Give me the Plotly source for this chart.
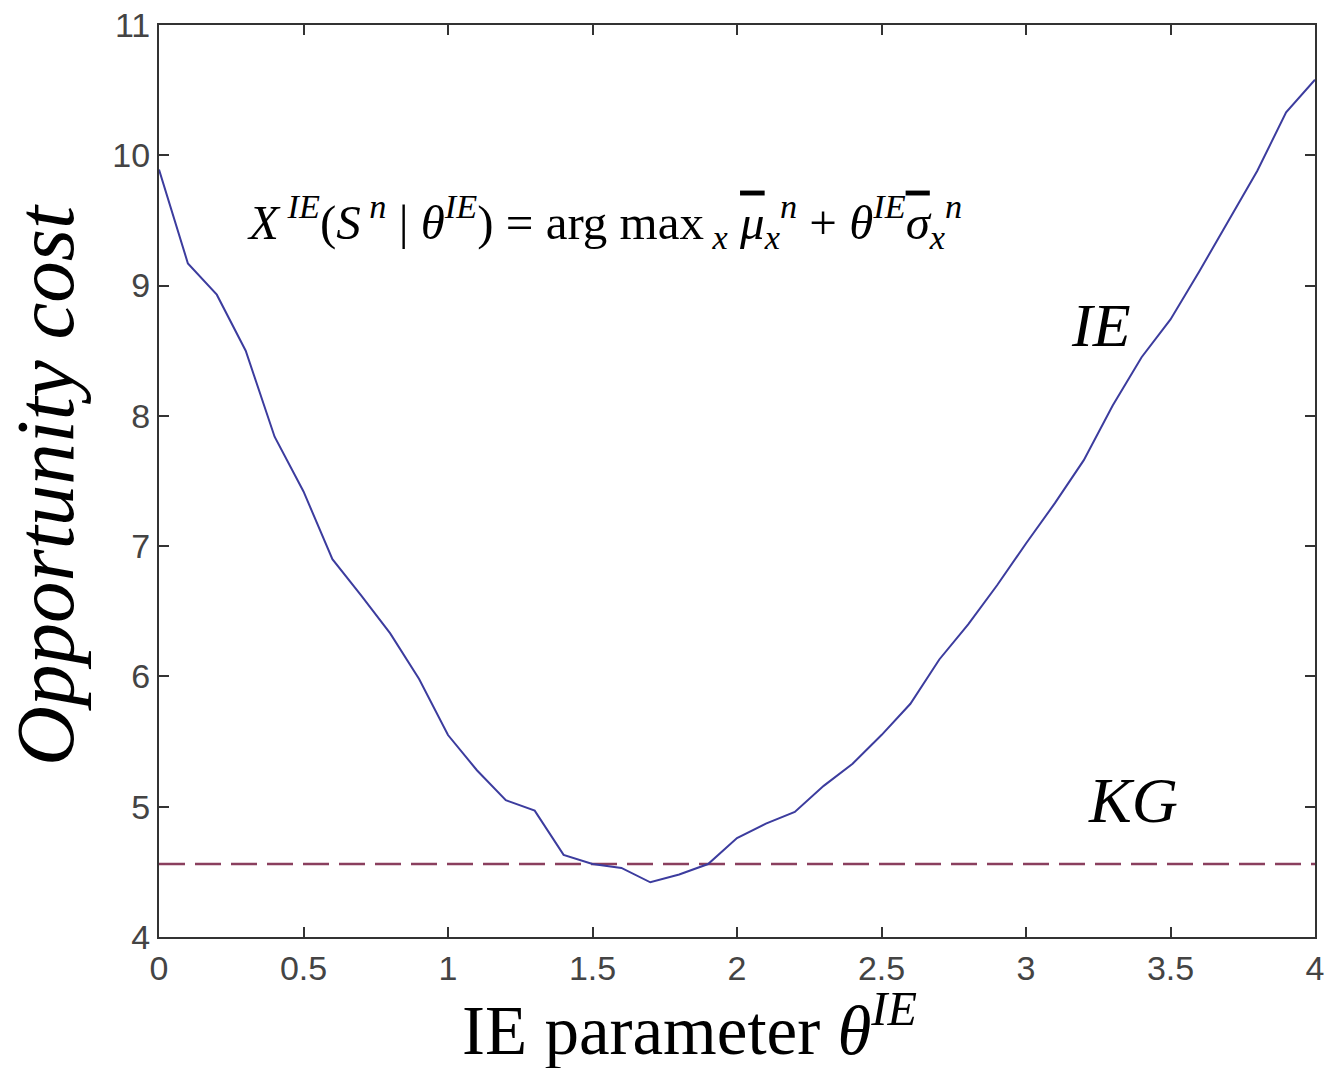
import plotly.graph_objects as go

theta = [0.0, 0.1, 0.2, 0.3, 0.4, 0.5, 0.6, 0.7, 0.8, 0.9,
         1.0, 1.1, 1.2, 1.3, 1.4, 1.5, 1.6, 1.7, 1.8, 1.9,
         2.0, 2.1, 2.2, 2.3, 2.4, 2.5, 2.6, 2.7, 2.8, 2.9,
         3.0, 3.1, 3.2, 3.3, 3.4, 3.5, 3.6, 3.7, 3.8, 3.9, 4.0]
ie_cost = [9.89, 9.17, 8.93, 8.50, 7.84, 7.42, 6.90, 6.62, 6.33, 5.98,
           5.55, 5.28, 5.05, 4.97, 4.63, 4.56, 4.53, 4.42, 4.48, 4.56,
           4.76, 4.87, 4.96, 5.16, 5.33, 5.55, 5.79, 6.13, 6.40, 6.70,
           7.02, 7.33, 7.66, 8.08, 8.45, 8.74, 9.11, 9.50, 9.88, 10.33, 10.58]
kg_x = [0.0, 4.0]
kg_cost = [4.56, 4.56]

x_ticks = [0, 0.5, 1, 1.5, 2, 2.5, 3, 3.5, 4]
x_tick_text = ["0", "0.5", "1", "1.5", "2", "2.5", "3", "3.5", "4"]
y_ticks = [4, 5, 6, 7, 8, 9, 10, 11]
y_tick_text = ["4", "5", "6", "7", "8", "9", "10", "11"]

fig = go.Figure()
fig.add_trace(go.Scatter(x=kg_x, y=kg_cost, mode="lines",
                         line=dict(color="#8a3f5e", width=2.5, dash="26px,10px"),
                         showlegend=False))
fig.add_trace(go.Scatter(x=theta, y=ie_cost, mode="lines",
                         line=dict(color="#3c3c9e", width=2),
                         showlegend=False))

serif = "Liberation Serif"
axis_common = dict(showline=True, linecolor="#333333", linewidth=2, mirror="ticks",
                   ticks="inside", ticklen=10, tickwidth=2, tickcolor="#333333",
                   showgrid=False, zeroline=False, automargin=False,
                   ticklabeloverflow="allow",
                   tickfont=dict(family="Liberation Sans", size=34, color="#444444"))

ov = '<span style="text-decoration:overline">'
formula = ("<i>X</i><sup> <i>IE</i></sup>(<i>S</i><sup> <i>n</i></sup> | <i>θ</i><sup><i>IE</i></sup>) = arg max<sub> <i>x</i></sub> "
           + ov + "<i>μ</i></span><sub><i>x</i></sub><sup><i>n</i></sup> + <i>θ</i><sup><i>IE</i></sup>"
           + ov + "<i>σ</i></span><sub><i>x</i></sub><sup><i>n</i></sup>")

fig.update_layout(
    width=1324, height=1068,
    margin=dict(l=159, r=9, t=25, b=131, autoexpand=False),
    plot_bgcolor="white", paper_bgcolor="white",
    xaxis=dict(range=[0, 4], tickvals=x_ticks, ticktext=x_tick_text, **axis_common),
    yaxis=dict(range=[4, 11], tickvals=y_ticks, ticktext=y_tick_text, **axis_common),
    annotations=[
        dict(x=1.54, y=9.49, xref="x", yref="y", showarrow=False,
             xanchor="center", yanchor="middle",
             text=formula, font=dict(family=serif, size=49, color="black")),
        dict(x=3.26, y=8.70, xref="x", yref="y", showarrow=False,
             xanchor="center", yanchor="middle",
             text="<i>IE</i>", font=dict(family=serif, size=62, color="black")),
        dict(x=3.37, y=5.05, xref="x", yref="y", showarrow=False,
             xanchor="center", yanchor="middle",
             text="<i>KG</i>", font=dict(family=serif, size=64, color="black")),
        dict(x=-0.0986, y=0.4956, xref="paper", yref="paper", showarrow=False,
             xanchor="center", yanchor="middle",
             textangle=-90, text="<i>Opportunity cost</i>",
             font=dict(family=serif, size=83, color="black")),
        dict(x=0.459, y=-0.0975, xref="paper", yref="paper", showarrow=False,
             xanchor="center", yanchor="middle",
             text="IE parameter <i>θ</i><sup><i>IE</i></sup>",
             font=dict(family=serif, size=69, color="black")),
    ],
)

fig.write_html("out.html")
